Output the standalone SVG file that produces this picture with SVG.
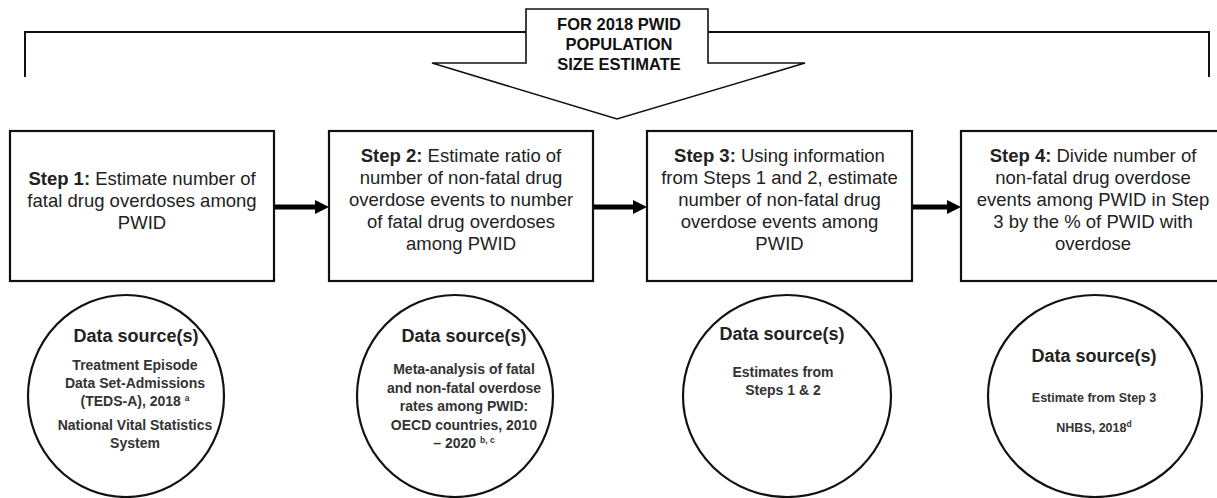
<svg xmlns="http://www.w3.org/2000/svg" width="1217" height="498" viewBox="0 0 1217 498">
<style>
.box{fill:#fff;stroke:#111;stroke-width:2.2}
.circ{fill:#fff;stroke:#111;stroke-width:2.2}
.bt{font-family:"Liberation Sans",Arial,sans-serif;font-size:18.5px;fill:#222;text-anchor:middle}
.b{font-weight:bold}
.ds{font-family:"Liberation Sans",Arial,sans-serif;font-size:18px;font-weight:bold;fill:#222;text-anchor:middle}
.ct{font-family:"Liberation Sans",Arial,sans-serif;font-size:14px;font-weight:bold;fill:#333;text-anchor:middle}
.ct4{font-family:"Liberation Sans",Arial,sans-serif;font-size:12.5px;font-weight:bold;fill:#333;text-anchor:middle}
.sup{font-size:8.5px}
.hd{font-family:"Liberation Sans",Arial,sans-serif;font-size:16.5px;font-weight:bold;fill:#111;text-anchor:middle}
.conn{stroke:#000;stroke-width:5;fill:none}
.brk{stroke:#111;stroke-width:2;fill:none}
</style>
<defs>
<marker id="ah" markerUnits="userSpaceOnUse" markerWidth="14" markerHeight="14" refX="4" refY="7" orient="auto">
<path d="M0,0 L14,7 L0,14 z" fill="#000"/>
</marker>
</defs>
<rect width="1217" height="498" fill="#fff"/>

<g id="header">
<polyline class="brk" points="25,77 25,32 1209,32 1209,77"/>
<polygon points="526,9 708,9 708,63 805,63 617,119 432,63 526,63" fill="#fff" stroke="#111" stroke-width="1.6"/>
<text class="hd" x="619" y="30">FOR 2018 PWID</text>
<text class="hd" x="619" y="50">POPULATION</text>
<text class="hd" x="619" y="70">SIZE ESTIMATE</text>
</g>

<g id="connectors">
<line class="conn" x1="274" y1="207" x2="319" y2="207" marker-end="url(#ah)"/>
<line class="conn" x1="593" y1="207" x2="637" y2="207" marker-end="url(#ah)"/>
<line class="conn" x1="912" y1="207" x2="951" y2="207" marker-end="url(#ah)"/>
</g>

<g id="step1">
<rect class="box" x="10" y="131" width="264" height="150"/>
<text class="bt" x="142" y="185"><tspan class="b">Step 1:</tspan> Estimate number of</text>
<text class="bt" x="142" y="207">fatal drug overdoses among</text>
<text class="bt" x="142" y="229">PWID</text>
</g>

<g id="step2">
<rect class="box" x="329" y="131" width="264" height="150"/>
<text class="bt" x="461" y="162"><tspan class="b">Step 2:</tspan> Estimate ratio of</text>
<text class="bt" x="461" y="184">number of non-fatal drug</text>
<text class="bt" x="461" y="206">overdose events to number</text>
<text class="bt" x="461" y="228">of fatal drug overdoses</text>
<text class="bt" x="461" y="250">among PWID</text>
</g>

<g id="step3">
<rect class="box" x="647" y="131" width="265" height="150"/>
<text class="bt" x="779.5" y="162"><tspan class="b">Step 3:</tspan> Using information</text>
<text class="bt" x="779.5" y="184">from Steps 1 and 2, estimate</text>
<text class="bt" x="779.5" y="206">number of non-fatal drug</text>
<text class="bt" x="779.5" y="228">overdose events among</text>
<text class="bt" x="779.5" y="250">PWID</text>
</g>

<g id="step4">
<rect class="box" x="961" y="131" width="264" height="150"/>
<text class="bt" x="1093" y="162"><tspan class="b">Step 4:</tspan> Divide number of</text>
<text class="bt" x="1093" y="184">non-fatal drug overdose</text>
<text class="bt" x="1093" y="206">events among PWID in Step</text>
<text class="bt" x="1093" y="228">3 by the % of PWID with</text>
<text class="bt" x="1093" y="250">overdose</text>
</g>

<g id="source1">
<ellipse class="circ" cx="126" cy="396" rx="98" ry="101"/>
<text class="ds" x="136" y="342">Data source(s)</text>
<text class="ct" x="135" y="370">Treatment Episode</text>
<text class="ct" x="135" y="388">Data Set-Admissions</text>
<text class="ct" x="135" y="406">(TEDS-A), 2018 <tspan class="sup" dy="-5">a</tspan></text>
<text class="ct" x="135" y="430">National Vital Statistics</text>
<text class="ct" x="135" y="448">System</text>
</g>

<g id="source2">
<ellipse class="circ" cx="455" cy="396" rx="98" ry="101"/>
<text class="ds" x="464" y="342">Data source(s)</text>
<text class="ct" x="464" y="374">Meta-analysis of fatal</text>
<text class="ct" x="464" y="392.5">and non-fatal overdose</text>
<text class="ct" x="464" y="411">rates among PWID:</text>
<text class="ct" x="464" y="429.5">OECD countries, 2010</text>
<text class="ct" x="464" y="448">– 2020 <tspan class="sup" dy="-5">b, c</tspan></text>
</g>

<g id="source3">
<ellipse class="circ" cx="787" cy="396" rx="104" ry="101"/>
<text class="ds" x="782" y="340">Data source(s)</text>
<text class="ct" x="783" y="377">Estimates from</text>
<text class="ct" x="783" y="395">Steps 1 &amp; 2</text>
</g>

<g id="source4">
<ellipse class="circ" cx="1095" cy="396" rx="107" ry="101"/>
<text class="ds" x="1094" y="362">Data source(s)</text>
<text class="ct4" x="1094" y="402">Estimate from Step 3</text>
<text class="ct4" x="1094" y="432">NHBS, 2018<tspan class="sup" dy="-5">d</tspan></text>
</g>
</svg>
